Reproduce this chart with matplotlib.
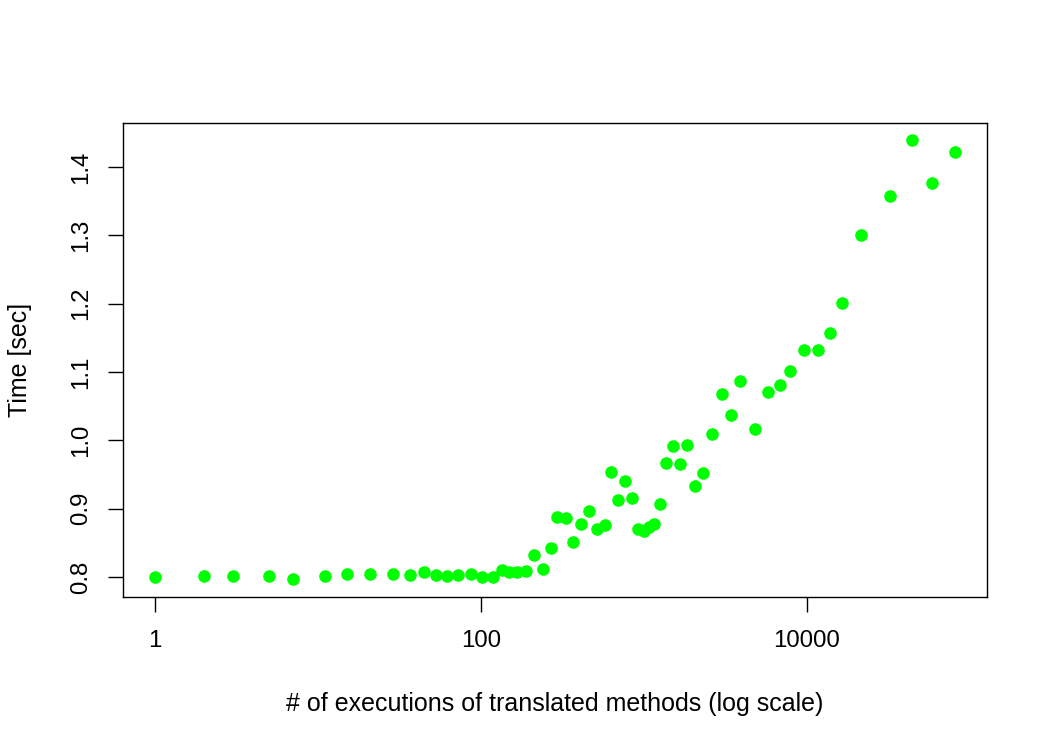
import numpy as np
import matplotlib
matplotlib.use('Agg')
import matplotlib.pyplot as plt
from matplotlib.ticker import FixedLocator, FixedFormatter

plt.rcParams['font.family'] = ['Liberation Sans', 'DejaVu Sans']

# number of executions of translated methods
executions = [1, 2, 3, 5, 7, 11, 15, 21, 29, 37, 45, 53, 62, 72, 87,
              101, 118, 134, 148, 166, 189, 211, 240, 268, 293, 332, 366,
              409, 458, 514, 575, 627, 693, 765, 846, 916, 1004, 1075, 1154,
              1257, 1372, 1516, 1654, 1826, 2044, 2317, 2629, 3014, 3423,
              3883, 4803, 5779, 6840, 7895, 9521, 11600, 13800, 16300,
              21400, 32200, 44200, 58100, 81000]
# time in seconds
times = [0.800, 0.8015, 0.8015, 0.802, 0.797, 0.8015, 0.804, 0.805, 0.804,
         0.803, 0.808, 0.803, 0.802, 0.803, 0.804,
         0.800, 0.800, 0.810, 0.807, 0.807, 0.809, 0.832, 0.812, 0.842,
         0.888, 0.886, 0.851, 0.878, 0.897, 0.870, 0.876, 0.954, 0.913,
         0.940, 0.916, 0.870, 0.867, 0.873, 0.878, 0.907, 0.967, 0.992,
         0.965, 0.993, 0.933, 0.952, 1.009, 1.068, 1.037, 1.087, 1.017,
         1.071, 1.081, 1.101, 1.132, 1.132, 1.157, 1.201, 1.300, 1.358,
         1.440, 1.377, 1.422]

xticks = [1, 100, 10000]
xticklabels = ['1', '100', '10000']
yticks = [0.8, 0.9, 1.0, 1.1, 1.2, 1.3, 1.4]
yticklabels = ['0.8', '0.9', '1.0', '1.1', '1.2', '1.3', '1.4']

fig = plt.figure(figsize=(10.5, 7.5), dpi=100)
ax = fig.add_axes([0.117, 0.204, 0.823, 0.632])

ax.scatter(executions, times, s=82, color='#00ff00', linewidths=0, zorder=3)

ax.set_xscale('log')
ax.set_xlim(10 ** -0.196, 10 ** 5.104)
ax.set_ylim(0.7707, 1.4644)

ax.xaxis.set_major_locator(FixedLocator(xticks))
ax.xaxis.set_major_formatter(FixedFormatter(xticklabels))
ax.xaxis.set_minor_locator(FixedLocator([]))
ax.set_yticks(yticks)
ax.set_yticklabels(yticklabels, rotation=90, va='center')

ax.tick_params(direction='out', length=10.8, width=1, labelsize=17.3)
ax.tick_params(axis='x', pad=13)
ax.tick_params(axis='y', pad=11)
for sp in ax.spines.values():
    sp.set_linewidth(1)

ax.set_xlabel('# of executions of translated methods (log scale)', fontsize=18, va='center')
ax.xaxis.set_label_coords(0.5, (597 - 704) / 474)
ax.set_ylabel('Time [sec]', fontsize=18, va='center')
ax.yaxis.set_label_coords((20 - 123) / 864, 0.5)

fig.savefig('out.png', dpi=100)
